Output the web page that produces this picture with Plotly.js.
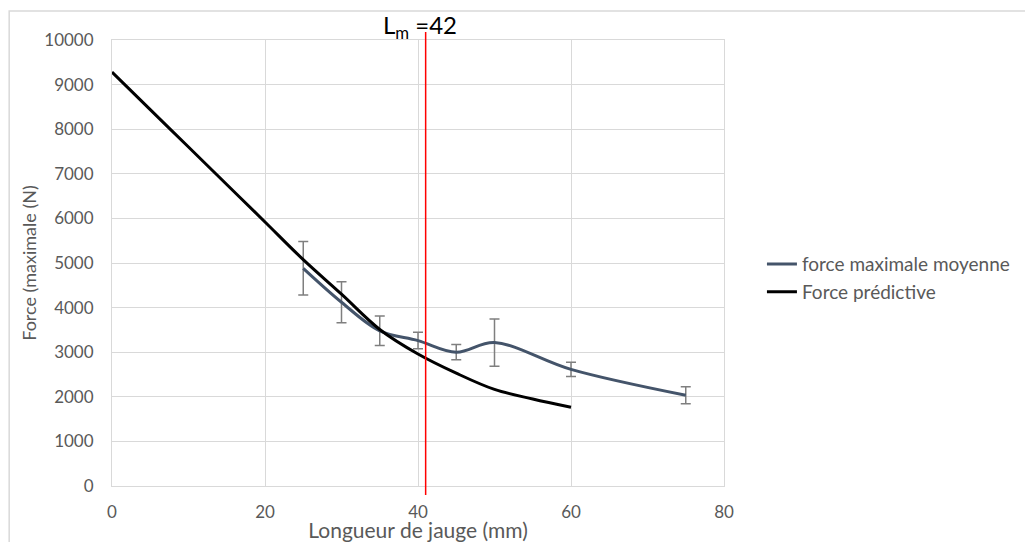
<!DOCTYPE html>
<html>
<head>
<meta charset="utf-8">
<script src="https://cdn.plot.ly/plotly-3.0.1.min.js"></script>
<style>html,body{margin:0;padding:0;background:#fff;}#chart{width:1025px;height:542px;}</style>
</head>
<body>
<div id="chart"></div>
<script>
// Measured series: force maximale moyenne (mean max force) with error bars
const lengthsMean = [25, 30, 35, 40, 45, 50, 60, 75];
const forceMean   = [4880, 4120, 3480, 3260, 3000, 3215, 2615, 2035];
const forceErr    = [600, 460, 330, 185, 170, 530, 160, 190];

// Predictive force curve
const lengthsPred = [0, 5, 10, 15, 20, 25, 30, 35, 40, 45, 50, 55, 60];
const forcePred   = [9280, 8440, 7600, 6760, 5920, 5075, 4300, 3510, 2960, 2530, 2165, 1950, 1765];

// Vertical marker line position and its label value
const lmLinePos = 41;
const lmLabel = "42";

const seriesNames = ["force maximale moyenne", "Force prédictive"];
const xTickVals = [0, 20, 40, 60, 80];
const yTickVals = [0, 1000, 2000, 3000, 4000, 5000, 6000, 7000, 8000, 9000, 10000];

const FONT = "Lato, 'Open Sans', sans-serif";
const grey = "#595959";
const gridc = "#d9d9d9";

const traces = [
  {
    x: lengthsMean, y: forceMean, name: seriesNames[0],
    type: "scatter", mode: "lines",
    line: {color: "#44546a", width: 3, shape: "spline", smoothing: 1},
    error_y: {type: "data", array: forceErr, visible: true, color: "#7f7f7f", thickness: 1.5, width: 5}
  },
  {
    x: lengthsPred, y: forcePred, name: seriesNames[1],
    type: "scatter", mode: "lines",
    line: {color: "#000000", width: 3, shape: "spline", smoothing: 1}
  }
];

const layout = {
  width: 1025, height: 542,
  paper_bgcolor: "#ffffff", plot_bgcolor: "#ffffff",
  margin: {l: 112, r: 301, t: 40, b: 56, pad: 0, autoexpand: false},
  font: {family: FONT, color: grey, size: 17},
  showlegend: true,
  legend: {
    x: 1.062, y: 0.466, xanchor: "left", yanchor: "middle",
    font: {family: FONT, size: 19, color: grey},
    bgcolor: "rgba(0,0,0,0)", itemwidth: 30, tracegroupgap: 0
  },
  xaxis: {
    range: [0, 80], tickvals: xTickVals, ticktext: xTickVals.map(String),
    showgrid: true, gridcolor: gridc, gridwidth: 1,
    showline: true, linecolor: gridc, linewidth: 1, mirror: true,
    zeroline: false, ticks: "", ticklabelstandoff: 11,
    tickfont: {family: FONT, size: 17, color: grey},
    title: {text: "Longueur de jauge (mm)", font: {family: FONT, size: 21, color: grey}, standoff: 6}
  },
  yaxis: {
    range: [0, 10000], tickvals: yTickVals, ticktext: yTickVals.map(String),
    showgrid: true, gridcolor: gridc, gridwidth: 1,
    showline: true, linecolor: gridc, linewidth: 1, mirror: true,
    zeroline: false, ticks: "", ticklabelstandoff: 14,
    tickfont: {family: FONT, size: 17, color: grey},
    title: {text: "Force (maximale (N)", font: {family: FONT, size: 18, color: grey}, standoff: 2}
  },
  shapes: [
    {type: "rect", xref: "paper", yref: "paper", x0: -0.168, x1: 1.7, y0: -0.3, y1: 1.065,
     line: {color: gridc, width: 1.5}, fillcolor: "rgba(0,0,0,0)", layer: "below"},
    {type: "line", xref: "x", yref: "paper", x0: lmLinePos, x1: lmLinePos, y0: -0.02, y1: 1.018,
     line: {color: "#ff0000", width: 1.5}}
  ],
  annotations: [
    {xref: "x", yref: "paper", x: lmLinePos, y: 1.031, xshift: -6, xanchor: "center", yanchor: "middle",
     text: "L<sub>m</sub> =" + lmLabel, showarrow: false,
     font: {family: FONT, size: 24, color: "#000000"}}
  ]
};

Plotly.newPlot("chart", traces, layout, {displayModeBar: false, staticPlot: true});
</script>
</body>
</html>
